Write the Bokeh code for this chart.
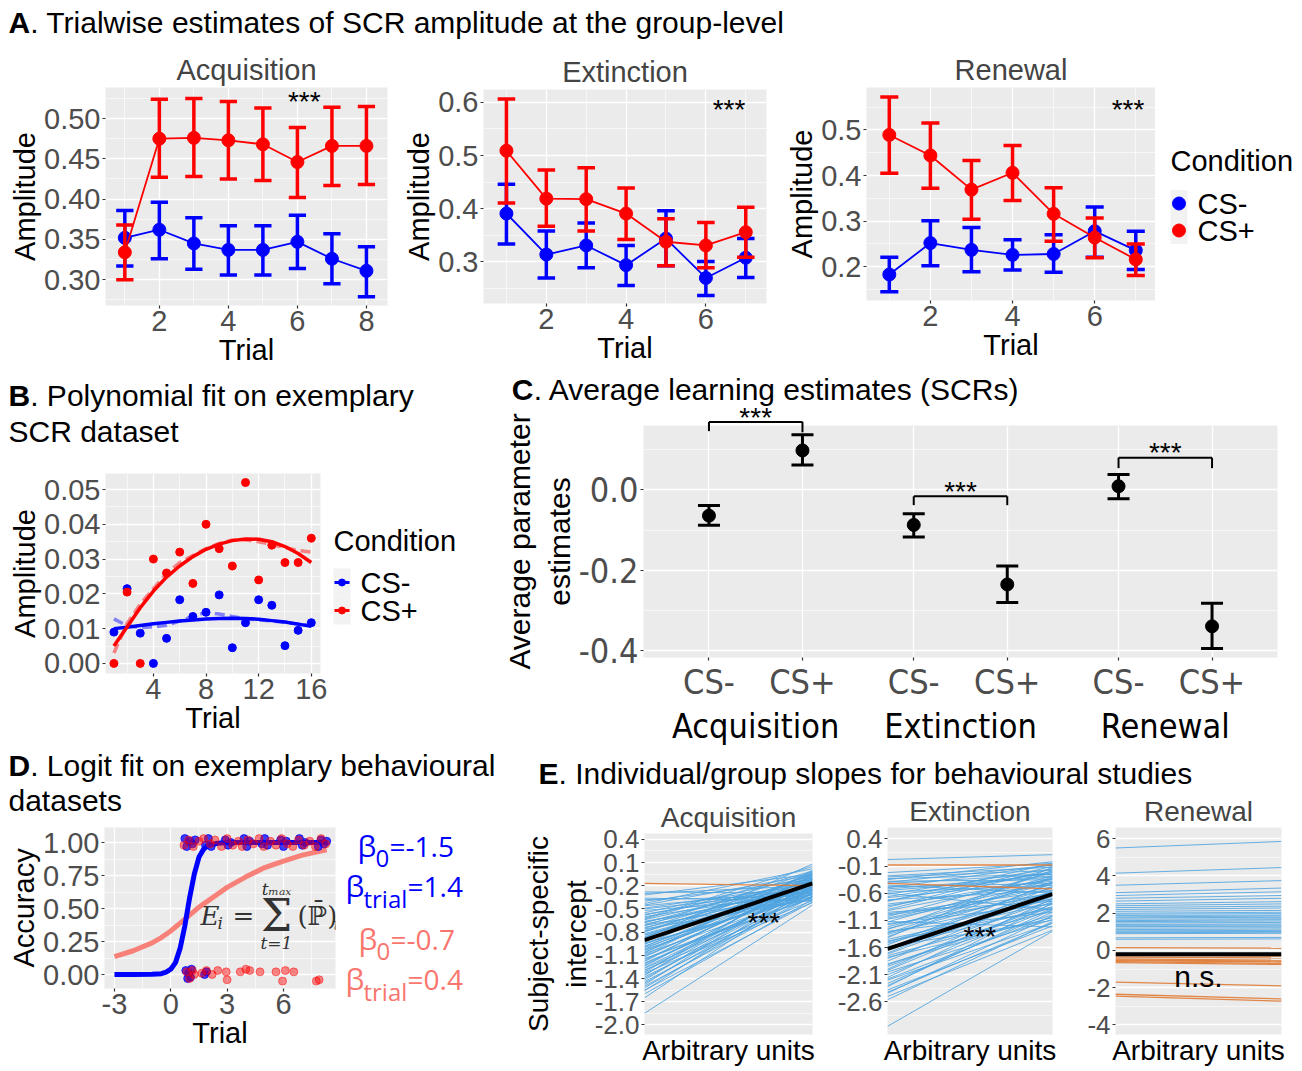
from bokeh.plotting import figure
from bokeh.models import (Range1d, FixedTicker, PrintfTickFormatter, Label, FactorRange,
                          Whisker, TeeHead, ColumnDataSource)
from bokeh.layouts import row, column
from bokeh.embed import file_html
from bokeh.resources import INLINE
from bokeh.core.properties import value

# ---------------- Panel A data (group-level SCR amplitude) ----------------
acq_trial = [1, 2, 3, 4, 5, 6, 7, 8]
acq_csm_mean = [0.352, 0.362, 0.345, 0.337, 0.337, 0.347, 0.326, 0.311]
acq_csm_low = [0.317, 0.326, 0.313, 0.306, 0.306, 0.314, 0.295, 0.279]
acq_csm_high = [0.386, 0.396, 0.377, 0.367, 0.367, 0.380, 0.357, 0.341]
acq_csp_mean = [0.334, 0.475, 0.476, 0.473, 0.468, 0.446, 0.466, 0.466]
acq_csp_low = [0.300, 0.427, 0.428, 0.425, 0.423, 0.402, 0.417, 0.418]
acq_csp_high = [0.368, 0.524, 0.525, 0.521, 0.513, 0.489, 0.514, 0.515]

ext_trial = [1, 2, 3, 4, 5, 6, 7]
ext_csm_mean = [0.391, 0.314, 0.331, 0.294, 0.344, 0.270, 0.308]
ext_csm_low = [0.334, 0.270, 0.289, 0.256, 0.293, 0.237, 0.271]
ext_csm_high = [0.446, 0.358, 0.373, 0.331, 0.396, 0.301, 0.344]
ext_csp_mean = [0.509, 0.419, 0.418, 0.391, 0.338, 0.331, 0.356]
ext_csp_low = [0.411, 0.367, 0.358, 0.342, 0.293, 0.289, 0.309]
ext_csp_high = [0.606, 0.473, 0.477, 0.439, 0.381, 0.374, 0.403]

ren_trial = [1, 2, 3, 4, 5, 6, 7]
ren_csm_mean = [0.183, 0.252, 0.237, 0.226, 0.228, 0.278, 0.236]
ren_csm_low = [0.145, 0.202, 0.189, 0.193, 0.188, 0.221, 0.194]
ren_csm_high = [0.221, 0.301, 0.286, 0.259, 0.270, 0.331, 0.278]
ren_csp_mean = [0.489, 0.444, 0.369, 0.406, 0.316, 0.264, 0.216]
ren_csp_low = [0.405, 0.372, 0.304, 0.345, 0.256, 0.220, 0.181]
ren_csp_high = [0.572, 0.515, 0.433, 0.466, 0.373, 0.307, 0.250]

# ---------------- Panel B data (exemplary SCR dataset) ----------------
b_trial = [1, 2, 3, 4, 5, 6, 7, 8, 9, 10, 11, 12, 13, 14, 15, 16]
b_csm = [0.0090, 0.0215, 0.0087, 0.0000, 0.0072, 0.0183, 0.0135, 0.0147,
         0.0197, 0.0045, 0.0117, 0.0183, 0.0167, 0.0051, 0.0095, 0.0117]
b_csp = [0.0000, 0.0205, 0.0000, 0.0300, 0.0260, 0.0320, 0.0230, 0.0400,
         0.0330, 0.0280, 0.0520, 0.0240, 0.0340, 0.0290, 0.0290, 0.0360]
b_fit_csm = [0.0100, 0.0104, 0.0109, 0.0114, 0.0118, 0.0122, 0.0125, 0.0128,
             0.0129, 0.0130, 0.0129, 0.0127, 0.0123, 0.0119, 0.0113, 0.0107]
b_fit_csp = [0.0050, 0.0105, 0.0160, 0.0208, 0.0248, 0.0280, 0.0307, 0.0328,
             0.0343, 0.0353, 0.0358, 0.0357, 0.0350, 0.0336, 0.0316, 0.0290]
b_smooth_csm = [0.0128, 0.0108, 0.0103, 0.0105, 0.0110, 0.0122, 0.0135, 0.0147,
                0.0142, 0.0135, 0.0128, 0.0125, 0.0122, 0.0118, 0.0113, 0.0108]
b_smooth_csp = [0.0030, 0.0115, 0.0170, 0.0215, 0.0258, 0.0290, 0.0310, 0.0330,
                0.0345, 0.0355, 0.0355, 0.0350, 0.0342, 0.0333, 0.0325, 0.0320]

# ---------------- Panel C data (average learning estimates) ----------------
c_groups = ["Acquisition", "Extinction", "Renewal"]
c_conds = ["CS-", "CS+"]
c_mean = [-0.064, 0.098, -0.087, -0.235, 0.009, -0.339]
c_low = [-0.088, 0.062, -0.117, -0.280, -0.022, -0.394]
c_high = [-0.039, 0.137, -0.059, -0.189, 0.038, -0.282]
c_bracket_top = [0.169, -0.016, 0.080]
c_bracket_left_end = [0.146, -0.038, 0.054]
c_bracket_right_end = [0.143, -0.038, 0.054]
c_star_y = [0.179, -0.003, 0.092]

# ---------------- Panel D data (logit fit) ----------------
d_curve_x = [-3, -2, -1, -0.5, -0.25, 0, 0.25, 0.5, 0.75, 1.0, 1.25, 1.5, 1.75, 2.0,
             2.5, 3, 4, 5, 6, 7, 8.3]
d_blue_curve = [0.0, 0.0, 0.002, 0.006, 0.018, 0.04, 0.09, 0.20, 0.37, 0.58, 0.76, 0.89,
                0.95, 0.98, 0.995, 1.0, 1.0, 1.0, 1.0, 1.0, 1.0]
d_red_curve = [0.135, 0.18, 0.24, 0.28, 0.305, 0.33, 0.36, 0.39, 0.42, 0.45, 0.48, 0.51,
               0.535, 0.56, 0.61, 0.66, 0.74, 0.81, 0.86, 0.905, 0.945]
d_blue_hit_x = [0.75, 0.85, 1.0, 1.15, 1.3, 1.85, 2.0, 2.15, 2.9, 3.05, 3.2, 3.9, 4.05, 4.2,
                4.85, 5.0, 5.15, 5.85, 6.0, 6.15, 6.85, 7.0, 7.15, 7.85, 8.0, 8.15, 8.3]
d_blue_hit_y = [1.03, 0.97, 1.01, 0.99, 1.02, 0.98, 1.03, 0.97, 1.02, 0.98, 1.00, 1.03, 0.97, 1.01,
                0.99, 1.03, 0.98, 1.02, 0.97, 1.01, 1.03, 0.98, 1.00, 0.97, 1.02, 0.99, 1.01]
d_red_hit_x = [0.7, 0.95, 1.2, 1.5, 1.75, 2.1, 2.35, 2.7, 3.0, 3.3, 3.6, 3.8, 4.1, 4.4,
               4.7, 4.95, 5.3, 5.6, 5.9, 6.2, 6.5, 6.8, 7.1, 7.4, 7.7, 8.0, 8.25]
d_red_hit_y = [0.98, 1.02, 0.97, 1.01, 1.03, 0.99, 1.02, 0.97, 1.03, 0.98, 1.01, 0.97, 1.02, 0.99,
               1.03, 0.97, 1.01, 0.98, 1.03, 0.99, 0.97, 1.02, 0.98, 1.01, 0.97, 1.03, 0.99]
d_blue_miss_x = [0.8, 0.9, 0.95, 1.05, 1.1, 1.8, 1.9]
d_blue_miss_y = [0.03, -0.03, 0.01, -0.02, 0.04, 0.0, 0.02]
d_red_miss_x = [0.85, 1.0, 1.15, 1.25, 1.65, 1.9, 2.2, 2.5, 2.95, 3.0, 3.7, 4.0, 4.2, 4.75,
                5.6, 5.95, 6.1, 6.55, 7.75, 7.9]
d_red_miss_y = [0.02, -0.03, 0.03, 0.0, 0.01, 0.03, 0.0, 0.03, 0.02, -0.04, 0.02, 0.04, 0.03, 0.02,
                0.02, -0.05, 0.03, 0.02, -0.05, -0.04]

# ---------------- Panel E data (individual / group slopes) ----------------
e_x = [0, 1]
e_acq_blue_start = [
    -0.28, -0.32, -0.36, -0.40, -0.43, -0.46, -0.49, -0.52, -0.55, -0.57,
    -0.60, -0.62, -0.64, -0.66, -0.68, -0.70, -0.72, -0.74, -0.76, -0.78,
    -0.80, -0.82, -0.84, -0.86, -0.88, -0.90, -0.92, -0.94, -0.96, -0.98,
    -1.00, -1.02, -1.04, -1.06, -1.08, -1.10, -1.12, -1.15, -1.18, -1.21,
    -1.24, -1.27, -1.30, -1.33, -1.36, -1.40, -1.44, -1.48, -1.52, -1.56,
    -1.60, -1.65, -1.85, -0.30, -0.38, -0.45, -0.50, -0.58, -0.63, -0.67,
    -0.71, -0.75, -0.79, -0.83, -0.87, -0.91, -0.95, -0.99, -1.03, -1.07,
    -1.11, -1.14, -1.17, -1.20, -1.23, -1.26, -1.29, -1.32, -1.35, -1.38,
    -1.42, -1.46, -1.50, -1.55]
e_acq_blue_end = [
    -0.30, -0.05, -0.40, -0.12, 0.02, -0.25, -0.18, -0.35, -0.08, -0.22,
    -0.28, 0.05, -0.15, -0.32, -0.10, -0.20, -0.02, -0.26, -0.38, -0.13,
    -0.06, -0.24, -0.30, -0.17, 0.08, -0.21, -0.11, -0.34, -0.04, -0.19,
    -0.27, -0.09, -0.23, -0.14, -0.31, 0.00, -0.16, -0.36, -0.07, -0.25,
    -0.12, -0.29, -0.18, -0.42, -0.03, -0.22, -0.33, -0.10, -0.27, -0.15,
    -0.38, -0.20, -0.45, -0.20, -0.33, -0.06, -0.27, -0.14, -0.01, -0.23,
    -0.37, -0.09, -0.19, -0.28, -0.04, -0.16, -0.31, -0.11, -0.24, -0.02,
    -0.18, -0.35, -0.07, -0.26, -0.13, -0.21, -0.39, -0.05, -0.17, -0.30,
    -0.12, -0.25, -0.34, -0.41]
e_acq_orange_start = [-0.17]
e_acq_orange_end = [-0.20]
e_acq_group = [-0.905, -0.17]

e_ext_blue_start = [
    0.02, -0.22, -0.28, -0.35, -0.42, -0.50, -0.55, -0.62, -0.68, -0.74,
    -0.80, -0.86, -0.92, -0.98, -1.03, -1.08, -1.13, -1.18, -1.22, -1.27,
    -1.32, -1.36, -1.40, -1.45, -1.50, -1.55, -1.60, -1.65, -1.70, -1.75,
    -1.80, -1.85, -1.90, -1.95, -2.00, -2.05, -2.10, -2.15, -2.20, -2.26,
    -2.32, -2.38, -2.44, -2.50, -2.56, -3.05, -0.45, -0.95, -1.30, -1.58,
    -0.60, -1.12, -0.75, -1.42, -0.38, -0.30, -0.40, -0.52, -0.58, -0.66,
    -0.72, -0.83, -0.90, -1.00, -1.06, -1.16, -1.25, -1.34, -1.48, -1.62,
    -1.78, -1.92, -2.02, -2.18, -2.30, -2.42, -1.52, -1.72, -0.48, -0.33]
e_ext_blue_end = [
    0.11, -0.05, -0.12, -0.02, -0.25, -0.08, -0.30, -0.15, -0.38, -0.20,
    -0.45, -0.10, -0.33, -0.55, -0.22, -0.48, -0.28, -0.62, -0.40, -0.18,
    -0.70, -0.50, -0.32, -0.78, -0.58, -0.42, -0.85, -0.66, -0.48, -0.92,
    -0.72, -0.55, -1.00, -0.80, -0.62, -1.08, -0.88, -0.70, -1.15, -0.95,
    -0.78, -1.20, -1.02, -1.28, -1.12, -1.30, -0.60, -0.75, -0.95, -1.10,
    -0.90, -1.22, -0.05, -0.12, -0.35, -0.18, -0.08, -0.28, -0.45, -0.22,
    -0.55, -0.35, -0.15, -0.62, -0.40, -0.80, -0.58, -0.30, -0.88, -0.40,
    -1.05, -0.85, -0.75, -1.02, -0.90, -1.15, -0.70, -0.60, -0.42, -0.25]
e_ext_orange_start = [-0.08, -0.42]
e_ext_orange_end = [-0.08, -0.52]
e_ext_group = [-1.625, -0.615]

e_ren_blue_start = [5.50, 4.15, 3.50, 3.10, 2.95, 2.80, 2.65, 2.50, 2.40, 2.30,
                    2.20, 2.10, 2.00, 1.95, 1.88, 1.80, 1.75, 1.68, 1.60, 1.55,
                    1.48, 1.40, 1.35, 1.28, 1.20, 1.12, 1.05, 1.00, 0.95, 0.90,
                    0.68, 0.60]
e_ren_blue_end = [5.85, 4.45, 3.75, 3.35, 3.15, 2.95, 2.80, 2.62, 2.50, 2.38,
                  2.28, 2.15, 2.05, 1.98, 1.90, 1.85, 1.78, 1.70, 1.65, 1.58,
                  1.50, 1.42, 1.36, 1.30, 1.22, 1.15, 1.08, 1.02, 0.98, 0.92,
                  0.70, 0.62]
e_ren_orange_start = [0.15, -0.25, -0.35, -0.45, -0.50, -0.55, -0.60, -0.65, -1.70, -2.35, -2.45]
e_ren_orange_end = [0.12, -0.30, -0.40, -0.52, -0.58, -0.62, -0.70, -0.75, -1.90, -2.60, -2.72]
e_ren_group = [-0.20, -0.20]

legend_labels = ["CS-", "CS+"]
legend_colors = ["#0000FF", "#FF0000"]

# ---------------- styling ----------------
FONT = "Liberation Sans"
NARROW = "Liberation Sans Narrow, Arial Narrow, DejaVu Sans Condensed, Liberation Sans, sans-serif"
BETA_FONT = "Open Sans"
PANEL = "#EBEBEB"
KEYBG = "#F2F2F2"
TICKC = "#4D4D4D"
BLUE = "#0000FF"
RED = "#FF0000"
SALMON = "#F8766D"
EBLUE = "#4DA3E0"
EORANGE = "#E07B35"


def no_align(p):
    try:
        p.frame_align = False
    except Exception:
        pass


def make_fig(w, h, left, right, top, bottom, xr, yr, tick_size="29px", label_size="29px",
             tick_font=FONT):
    p = figure(width=w, height=h, x_range=xr, y_range=yr, output_backend="svg",
               toolbar_location=None, min_border_left=left, min_border_right=right,
               min_border_top=top, min_border_bottom=bottom)
    no_align(p)
    p.background_fill_color = PANEL
    p.border_fill_color = "white"
    p.outline_line_color = None
    p.title.visible = False
    for ax in p.axis:
        ax.axis_line_color = None
        ax.major_tick_line_color = "#333333"
        ax.major_tick_line_width = 1.2
        ax.major_tick_out = 3
        ax.major_tick_in = 0
        ax.minor_tick_line_color = None
        ax.major_label_text_font = tick_font
        ax.major_label_text_font_size = tick_size
        ax.major_label_text_color = TICKC
        ax.axis_label_text_font = FONT
        ax.axis_label_text_font_size = label_size
        ax.axis_label_text_font_style = "normal"
        ax.axis_label_text_color = "black"
        ax.major_label_standoff = 1
        ax.axis_label_standoff = 0
    for g in p.grid:
        g.grid_line_color = "white"
        g.grid_line_width = 1.3
        g.minor_grid_line_color = "white"
        g.minor_grid_line_width = 0.6
    return p


def set_ticks(p, dim, major, minor, fmt):
    t = FixedTicker(ticks=list(major), minor_ticks=list(minor))
    if dim == "x":
        p.xaxis.ticker = t
        p.xgrid.ticker = t
        p.xaxis.formatter = PrintfTickFormatter(format=fmt)
    else:
        p.yaxis.ticker = t
        p.ygrid.ticker = t
        p.yaxis.formatter = PrintfTickFormatter(format=fmt)


def set_title(p, text, size="29px", standoff=3):
    p.title.visible = True
    p.title.text = text
    p.title.align = "center"
    p.title.text_font = FONT
    p.title.text_font_size = size
    p.title.text_font_style = "normal"
    p.title.standoff = standoff


def blank(w, h):
    p = figure(width=w, height=h, x_range=Range1d(0, w), y_range=Range1d(0, h),
               x_axis_type=None, y_axis_type=None, output_backend="svg",
               toolbar_location=None, min_border=0)
    no_align(p)
    p.outline_line_color = None
    p.background_fill_color = "white"
    p.border_fill_color = "white"
    p.title.visible = False
    return p


def put_text(p, x, y, text, size="30px", style="normal", font=FONT, color="black", align="left"):
    p.add_layout(Label(x=x, y=y, text=text, text_font=font, text_font_size=size,
                       text_font_style=style, text_color=color, text_align=align,
                       text_baseline="middle"))


def heading(w, h, letter, x, y, first, letter_w, more=()):
    p = blank(w, h)
    put_text(p, x, y, letter, style="bold")
    put_text(p, x + letter_w, y, first)
    for (lx, ly, t) in more:
        put_text(p, lx, ly, t)
    return p


def legend_strip(w, h, x0, title_y, row_y, row_h, key_w, with_line, dot_size):
    # ggplot-style legend: title, grey key boxes, key glyphs and labels
    p = blank(w, h)
    put_text(p, x0, title_y, "Condition", size="29px")
    ys = [row_y - i * row_h for i in range(len(legend_labels))]
    p.quad(left=[x0] * len(ys), right=[x0 + key_w] * len(ys),
           top=[y + row_h / 2 for y in ys], bottom=[y - row_h / 2 for y in ys],
           fill_color=KEYBG, line_color=None)
    if with_line:
        p.segment(x0=[x0 + 1] * len(ys), y0=ys, x1=[x0 + key_w - 1] * len(ys), y1=ys,
                  line_color=legend_colors, line_width=3)
    p.scatter([x0 + key_w / 2] * len(ys), ys, size=dot_size, color=legend_colors)
    for lbl, y in zip(legend_labels, ys):
        put_text(p, x0 + key_w + 10, y, lbl, size="29px")
    return p


def errplot(p, x, m, lo, hi, color, cap):
    p.segment(x0=x, y0=lo, x1=x, y1=hi, line_color=color, line_width=3.5)
    p.segment(x0=[v - cap for v in x], y0=lo, x1=[v + cap for v in x], y1=lo,
              line_color=color, line_width=3.5)
    p.segment(x0=[v - cap for v in x], y0=hi, x1=[v + cap for v in x], y1=hi,
              line_color=color, line_width=3.5)
    p.line(x, m, line_color=color, line_width=1.8)
    return p.scatter(x, m, size=13, fill_color=color, line_color=color)


def add_stars(p, x, y, text="***", size="28px"):
    p.add_layout(Label(x=x, y=y, text=text, text_font=FONT, text_font_size=size,
                       text_align="center", text_baseline="middle", text_color="black"))


# ================= Row A =================
hdrA = heading(1294, 40, "A", 8, 18, ". Trialwise estimates of SCR amplitude at the group-level", 21.7)

acq = make_fig(400, 332, 105, 13, 47, 67, Range1d(0.44, 8.61), Range1d(0.268, 0.5385))
set_ticks(acq, "x", [2, 4, 6, 8], [1, 3, 5, 7], "%d")
set_ticks(acq, "y", [0.30, 0.35, 0.40, 0.45, 0.50], [0.275, 0.325, 0.375, 0.425, 0.475, 0.525], "%.2f")
acq.xaxis.axis_label = "Trial"
acq.yaxis.axis_label = "Amplitude"
set_title(acq, "Acquisition")
errplot(acq, acq_trial, acq_csm_mean, acq_csm_low, acq_csm_high, BLUE, 0.25)
errplot(acq, acq_trial, acq_csp_mean, acq_csp_low, acq_csp_high, RED, 0.25)
add_stars(acq, 6.2, 0.521)

ext = make_fig(383, 332, 82, 17, 49, 69, Range1d(0.425, 7.52), Range1d(0.222, 0.624))
set_ticks(ext, "x", [2, 4, 6], [1, 3, 5, 7], "%d")
set_ticks(ext, "y", [0.3, 0.4, 0.5, 0.6], [0.25, 0.35, 0.45, 0.55], "%.1f")
ext.xaxis.axis_label = "Trial"
ext.yaxis.axis_label = "Amplitude"
set_title(ext, "Extinction")
errplot(ext, ext_trial, ext_csm_mean, ext_csm_low, ext_csm_high, BLUE, 0.22)
errplot(ext, ext_trial, ext_csp_mean, ext_csp_low, ext_csp_high, RED, 0.22)
add_stars(ext, 6.58, 0.586)

ren = make_fig(372, 332, 81, 0, 47, 72, Range1d(0.445, 7.48), Range1d(0.126, 0.593))
set_ticks(ren, "x", [2, 4, 6], [1, 3, 5, 7], "%d")
set_ticks(ren, "y", [0.2, 0.3, 0.4, 0.5], [0.15, 0.25, 0.35, 0.45, 0.55], "%.1f")
ren.xaxis.axis_label = "Trial"
ren.yaxis.axis_label = "Amplitude"
set_title(ren, "Renewal")
errplot(ren, ren_trial, ren_csm_mean, ren_csm_low, ren_csm_high, BLUE, 0.22)
errplot(ren, ren_trial, ren_csp_mean, ren_csp_low, ren_csp_high, RED, 0.22)
add_stars(ren, 6.81, 0.545)

legA = legend_strip(139, 332, 15, 212, 169, 27, 17, False, 13)

rowA = row(acq, ext, ren, legA)

# ================= Row B / C =================
hdrB = heading(500, 80, "B", 8, 57, ". Polynomial fit on exemplary", 21.7,
               more=[(8, 21, "SCR dataset")])

figB = make_fig(328, 296, 105, 8, 21, 75, Range1d(0.36, 16.7), Range1d(-0.0029, 0.0546))
set_ticks(figB, "x", [4, 8, 12, 16], [2, 6, 10, 14], "%d")
set_ticks(figB, "y", [0.0, 0.01, 0.02, 0.03, 0.04, 0.05],
          [0.005, 0.015, 0.025, 0.035, 0.045], "%.2f")
figB.xaxis.axis_label = "Trial"
figB.yaxis.axis_label = "Amplitude"
figB.scatter(b_trial, b_csm, size=8, color=BLUE)
figB.scatter(b_trial, b_csp, size=8, color=RED)
figB.line(b_trial, b_smooth_csm, line_color=BLUE, line_alpha=0.45, line_width=3.5, line_dash="10 5")
figB.line(b_trial, b_smooth_csp, line_color=RED, line_alpha=0.45, line_width=3.5, line_dash="10 5")
figB.line(b_trial, b_fit_csm, line_color=BLUE, line_width=3.5)
figB.line(b_trial, b_fit_csp, line_color=RED, line_width=3.5)

legB = legend_strip(172, 296, 5, 208, 166, 28, 17, True, 7)

colB = column(hdrB, row(figB, legB))

c_factors = [(g, c) for g in c_groups for c in c_conds]
c_xr = FactorRange(*c_factors, group_padding=0.19, range_padding=0.2, range_padding_units="absolute")
figC = make_fig(794, 376, 132, 17, 53, 78, c_xr, Range1d(-0.4165, 0.16),
                tick_size="34px", label_size="30px", tick_font=NARROW)
set_ticks(figC, "y", [-0.4, -0.2, 0.0], [-0.3, -0.1, 0.1], "%.1f")
figC.yaxis.axis_label = "Average parameter\nestimates"
figC.xaxis.group_text_font = NARROW
figC.xaxis.group_text_font_size = "34px"
figC.xaxis.group_text_font_style = "normal"
figC.xaxis.group_text_color = "black"
figC.xaxis.separator_line_color = None
c_src = ColumnDataSource(dict(x=c_factors, mean=c_mean, lo=c_low, hi=c_high))
figC.add_layout(Whisker(source=c_src, base="x", upper="hi", lower="lo", line_color="black",
                        line_width=3,
                        upper_head=TeeHead(size=22, line_width=3, line_color="black"),
                        lower_head=TeeHead(size=22, line_width=3, line_color="black")))
figC.scatter(x="x", y="mean", source=c_src, size=13, color="black")
br_l = [(g, "CS-") for g in c_groups]
br_r = [(g, "CS+") for g in c_groups]
figC.segment(x0=br_l, y0=c_bracket_top, x1=br_r, y1=c_bracket_top, line_color="black",
             line_width=2, level="overlay")
figC.segment(x0=br_l, y0=c_bracket_top, x1=br_l, y1=c_bracket_left_end, line_color="black",
             line_width=2, level="overlay")
figC.segment(x0=br_r, y0=c_bracket_top, x1=br_r, y1=c_bracket_right_end, line_color="black",
             line_width=2, level="overlay")
figC.text(x=c_groups, y=c_star_y, text=["***"] * 3, text_font=value(FONT),
          text_font_size=value("28px"), text_align="center", text_baseline="middle",
          level="overlay")
# panel heading in the figure's top border, anchored to the first group's centre
c_head_x = [c_groups[0]]
c_head_y = [0.16]
figC.text(x=c_head_x, y=c_head_y, text=["C"], x_offset=-244, y_offset=-36,
          text_font=value(FONT), text_font_size=value("30px"), text_font_style="bold",
          text_align="left", text_baseline="middle", level="overlay")
figC.text(x=c_head_x, y=c_head_y, text=[". Average learning estimates (SCRs)"], x_offset=-222,
          y_offset=-36, text_font=value(FONT), text_font_size=value("30px"),
          text_align="left", text_baseline="middle", level="overlay")

rowBC = row(colB, figC)

# ================= Row D / E =================
hdrD = heading(500, 70, "D", 8, 53, ". Logit fit on exemplary behavioural", 21.7,
               more=[(8, 18, "datasets")])

figD = make_fig(345, 250, 104, 10, 9, 80, Range1d(-3.53, 8.77), Range1d(-0.106, 1.114))
set_ticks(figD, "x", [-3, 0, 3, 6], [-1.5, 1.5, 4.5, 7.5], "%d")
set_ticks(figD, "y", [0.0, 0.25, 0.5, 0.75, 1.0], [0.125, 0.375, 0.625, 0.875], "%.2f")
figD.xaxis.axis_label = "Trial"
figD.yaxis.axis_label = "Accuracy"
figD.line(d_curve_x, d_red_curve, line_color=SALMON, line_width=5, line_alpha=0.9)
figD.line(d_curve_x, d_blue_curve, line_color=BLUE, line_width=5)
figD.scatter(d_blue_hit_x + d_blue_miss_x, d_blue_hit_y + d_blue_miss_y, size=8, color=BLUE, alpha=0.75)
figD.scatter(d_red_hit_x + d_red_miss_x, d_red_hit_y + d_red_miss_y, size=8, color=RED, alpha=0.45)
for txt, dx, dy, size in [("E", 0, 0, "26px"), ("i", 17, -7, "17px"), ("=", 32, 0, "26px"),
                          ("(\u2119\u0304)", 97, 0, "26px"), ("t", 133, -8, "17px")]:
    figD.add_layout(Label(x=1.58, y=0.447, x_offset=dx, y_offset=dy, text=txt,
                          text_font="DejaVu Serif",
                          text_font_style="italic" if txt in ("E", "i", "t") else "normal",
                          text_font_size=size, text_color="#333333", text_align="left",
                          text_baseline="middle"))
for txt, dy, size in [("\u03a3", 0, "44px"), ("t\u2098\u2090\u2093", 27, "17px"), ("t=1", -27, "17px")]:
    figD.add_layout(Label(x=1.58, y=0.447, x_offset=76, y_offset=dy, text=txt,
                          text_font="DejaVu Serif",
                          text_font_style="italic" if txt != "\u03a3" else "normal",
                          text_font_size=size, text_color="#333333", text_align="center",
                          text_baseline="middle"))

betaFig = blank(155, 250)
for bx, by, col, sub, rest in [(12, 223, BLUE, "0", "=-1.5"), (0, 183, BLUE, "trial", "=1.4"),
                               (13, 130, SALMON, "0", "=-0.7"), (0, 90, SALMON, "trial", "=0.4")]:
    put_text(betaFig, bx, by, "\u03b2", size="30px", font=BETA_FONT, color=col)
    put_text(betaFig, bx + 18, by - 13, sub, size="24px", font=BETA_FONT, color=col)
    put_text(betaFig, bx + (32 if sub == "0" else 62), by, rest, size="28px", font=BETA_FONT, color=col)

colD = column(hdrD, row(figD, betaFig))

hdrE = heading(794, 44, "E", 38, 19, ". Individual/group slopes for behavioural studies", 20)


def e_panel(w, left, right, top, title, yr, major, minor, fmt, bs, be, os_, oe, grp, note):
    p = make_fig(w, 276, left, right, top, 31, Range1d(0, 1), yr, tick_size="26px", label_size="28px")
    p.xaxis.ticker = FixedTicker(ticks=[])
    p.xaxis.major_tick_out = 0
    p.xaxis.major_label_standoff = 0
    p.xgrid.visible = False
    p.xaxis.axis_label = "Arbitrary units"
    set_ticks(p, "y", major, minor, fmt)
    set_title(p, title, size="28px", standoff=2)
    p.multi_line(xs=[e_x for _ in bs], ys=[[s, e] for s, e in zip(bs, be)],
                 line_color=EBLUE, line_width=1.0, line_alpha=0.85)
    p.multi_line(xs=[e_x for _ in os_], ys=[[s, e] for s, e in zip(os_, oe)],
                 line_color=EORANGE, line_width=1.3, line_alpha=0.9)
    p.line(e_x, grp, line_color="black", line_width=4)
    add_stars(p, note[0], note[1], note[2], note[3])
    return p


E1 = e_panel(333, 144, 21, 41, "Acquisition", Range1d(-2.124, 0.475),
             [0.4, 0.1, -0.2, -0.5, -0.8, -1.1, -1.4, -1.7, -2.0],
             [0.25, -0.05, -0.35, -0.65, -0.95, -1.25, -1.55, -1.85], "%.1f",
             e_acq_blue_start, e_acq_blue_end, e_acq_orange_start, e_acq_orange_end,
             e_acq_group, (0.71, -0.68, "***", "28px"))
E1.yaxis.axis_label = "Subject-specific\nintercept"
E2 = e_panel(247, 54, 28, 35, "Extinction", Range1d(-3.2, 0.61),
             [0.4, -0.1, -0.6, -1.1, -1.6, -2.1, -2.6],
             [0.15, -0.35, -0.85, -1.35, -1.85, -2.35, -2.85], "%.1f",
             e_ext_blue_start, e_ext_blue_end, e_ext_orange_start, e_ext_orange_end,
             e_ext_group, (0.56, -1.40, "***", "28px"))
E3 = e_panel(214, 35, 13, 31, "Renewal", Range1d(-4.51, 6.6),
             [6, 4, 2, 0, -2, -4], [5, 3, 1, -1, -3], "%d",
             e_ren_blue_start, e_ren_blue_end, e_ren_orange_start, e_ren_orange_end,
             e_ren_group, (0.5, -1.4, "n.s.", "30px"))

colE = column(hdrE, row(E1, E2, E3))
rowDE = row(colD, colE)

layout = column(hdrA, rowA, rowBC, rowDE)

open("out.html", "w").write(file_html(layout, INLINE))
